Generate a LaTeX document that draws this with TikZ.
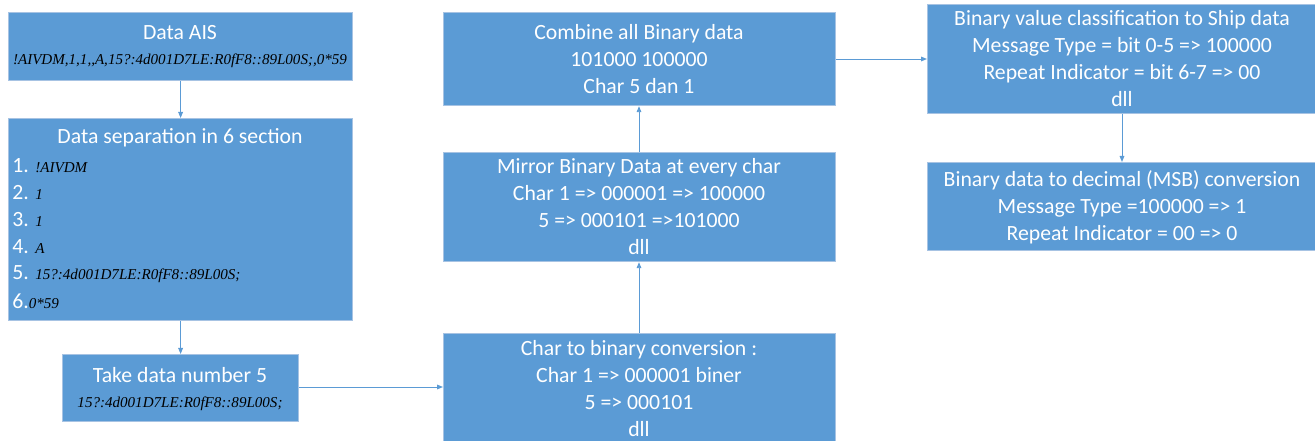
\documentclass[tikz,border=0pt]{standalone}
\usepackage{fontspec}
\setmainfont{Carlito}
\newfontfamily\dataf{Liberation Serif}
\usetikzlibrary{arrows.meta}
\definecolor{boxblue}{HTML}{5B9BD5}
\definecolor{boxedge}{HTML}{A7C3E3}
\newcommand{\datastyle}{\dataf\itshape\fontsize{11.3}{14}\selectfont}
\tikzset{
  box/.style={draw=boxedge, line width=0.9pt, fill=boxblue, anchor=north west, inner sep=0pt},
  txt/.style={text=white, font=\fontsize{16.3}{20.25}\selectfont, inner sep=0pt, align=center},
  dat/.style={text=black, font=\datastyle, inner sep=0pt},
  conn/.style={draw=boxblue, line width=0.7pt, -{Triangle[length=4.5pt,width=3.5pt]}}
}
\begin{document}
\begin{tikzpicture}[x=0.75pt,y=-0.75pt]
\useasboundingbox (0,0) rectangle (1315,441);
% boxes
\node[box, minimum width=344*0.75pt, minimum height=68*0.75pt] (ais) at (8,12) {};
\node[box, minimum width=344*0.75pt, minimum height=202*0.75pt] (sep) at (8,118) {};
\node[box, minimum width=236*0.75pt, minimum height=67*0.75pt] (take) at (62,354) {};
\node[box, minimum width=392*0.75pt, minimum height=120*0.75pt] (char) at (443,333) {};
\node[box, minimum width=392*0.75pt, minimum height=109*0.75pt] (mir) at (443,152) {};
\node[box, minimum width=392*0.75pt, minimum height=93*0.75pt] (comb) at (443,12) {};
\node[box, minimum width=392*0.75pt, minimum height=109*0.75pt] (cls) at (927,4) {};
\node[box, minimum width=392*0.75pt, minimum height=88*0.75pt] (dec) at (927,162) {};
% texts
\node[txt] (aist) at (180,33) {Data AIS};
\node[dat] (aisd) at (180,61) {!AIVDM,1,1,,A,15?:4d001D7LE:R0fF8::89L00S;,0*59};
\node[txt] (sept) at (180,138) {Data separation in 6 section};
\node[txt, anchor=west] (s1) at (12,166) {1. {\datastyle\color{black}!AIVDM}};
\node[txt, anchor=west] (s2) at (12,193) {2. {\datastyle\color{black}1}};
\node[txt, anchor=west] (s3) at (12,220) {3. {\datastyle\color{black}1}};
\node[txt, anchor=west] (s4) at (12,247) {4. {\datastyle\color{black}A}};
\node[txt, anchor=west] (s5) at (12,274) {5. {\datastyle\color{black}15?:4d001D7LE:R0fF8::89L00S;}};
\node[txt, anchor=west] (s6) at (12,301) {6.{\datastyle\color{black}0*59}};
\node[txt] (taket) at (180,375) {Take data number 5};
\node[dat] (taked) at (180,404) {15?:4d001D7LE:R0fF8::89L00S;};
\node[txt] (chart) at (639,389) {Char to binary conversion :\\Char 1 => 000001 biner\\5 => 000101\\dll};
\node[txt] (mirt) at (639,207) {Mirror Binary Data at every char\\Char 1 => 000001 => 100000\\5 => 000101 =>101000\\dll};
\node[txt] (combt) at (639,59) {Combine all Binary data\\101000 100000\\Char 5 dan 1};
\node[txt] (clst) at (1122,59) {Binary value classification to Ship data\\Message Type = bit 0-5 => 100000\\Repeat Indicator = bit 6-7 => 00\\dll};
\node[txt] (dect) at (1122,207) {Binary data to decimal (MSB) conversion\\Message Type =100000 => 1\\Repeat Indicator = 00 => 0};
% connectors
\draw[conn] (ais.south) -- (sep.north);
\draw[conn] (sep.south) -- (take.north);
\draw[conn] (take.east |- 0,387) -- (char.west |- 0,387);
\draw[conn] (char.north -| 639,0) -- (mir.south -| 639,0);
\draw[conn] (mir.north -| 639,0) -- (comb.south -| 639,0);
\draw[conn] (comb.east |- 0,59) -- (cls.west |- 0,59);
\draw[conn] (cls.south -| 1122,0) -- (dec.north -| 1122,0);
\end{tikzpicture}
\end{document}
